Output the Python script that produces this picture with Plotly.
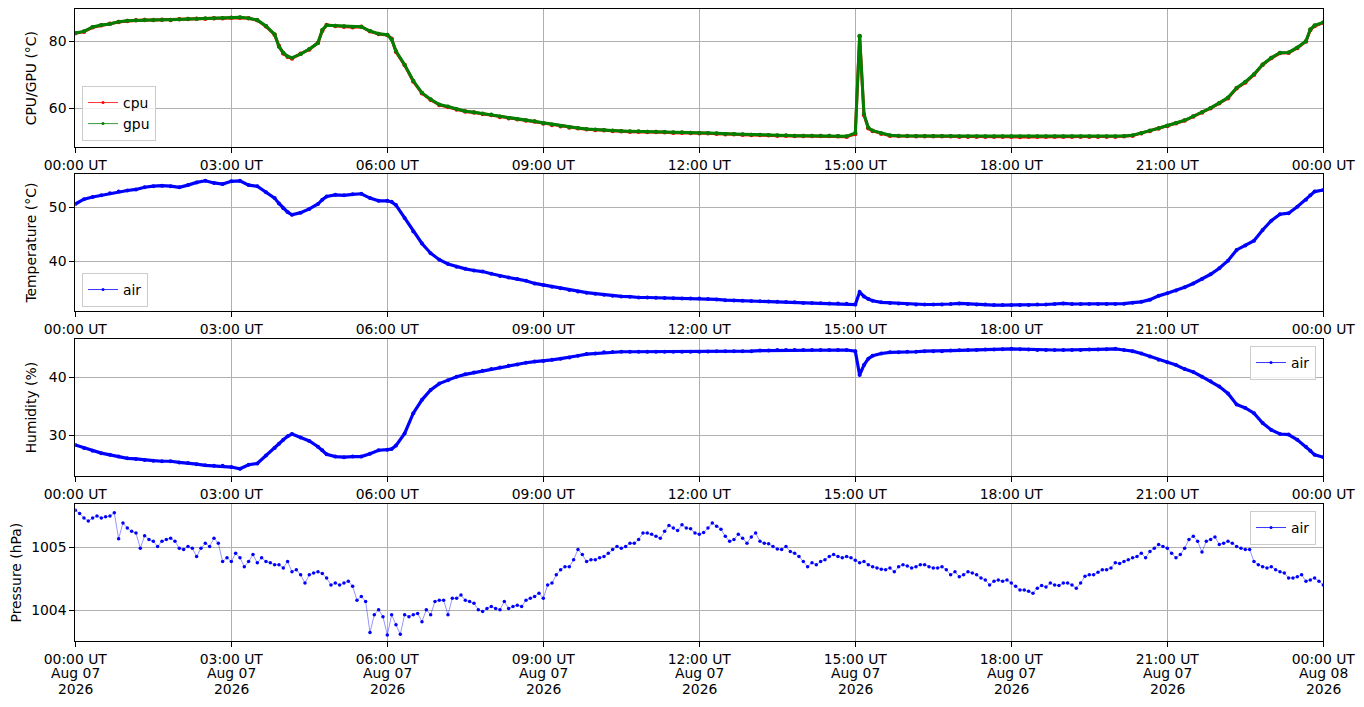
import pandas as pd
import plotly.graph_objects as go

# sample times in minutes after 2026-08-07 00:00 UT (10 min grid + a few extra readings)
extra_minutes = [235, 245, 285, 365, 905, 915, 1425]
minutes = sorted(set(range(0, 1441, 10)) | set(extra_minutes))
# pressure is read every 5 minutes
pressure_minutes = list(range(0, 1441, 5))

cpu = [
    82.4, 82.9, 84.2, 84.8, 85.3, 85.8,
    86.1, 86.3, 86.4, 86.4, 86.5, 86.4,
    86.6, 86.7, 86.8, 86.8, 86.9, 86.9,
    87.1, 87.1, 86.9, 86.3, 84.5, 82.0, 78.6,
    76.4, 75.4, 74.9, 76.3, 77.6, 79.6, 83.2, 84.9,
    84.6, 84.4, 84.2, 84.4, 83.0, 82.2,
    81.9, 80.8, 76.9, 72.9, 68.0, 64.5, 62.5,
    61.0, 60.4, 59.6, 59.0, 58.7, 58.3,
    58.0, 57.4, 57.0, 56.7, 56.3, 56.0,
    55.4, 55.0, 54.6, 54.2, 54.0, 53.7,
    53.5, 53.4, 53.2, 53.1, 53.0, 53.0,
    52.9, 52.9, 52.8, 52.7, 52.7, 52.6,
    52.5, 52.5, 52.4, 52.2, 52.2, 52.1,
    52.0, 52.0, 51.9, 51.8, 51.8, 51.7,
    51.7, 51.7, 51.7, 51.7, 51.6, 51.5,
    52.3, 81.5, 58.0, 54.0, 53.2, 52.4, 51.8, 51.7,
    51.7, 51.6, 51.6, 51.6, 51.6, 51.6,
    51.5, 51.5, 51.5, 51.5, 51.5, 51.5,
    51.5, 51.4, 51.5, 51.5, 51.5, 51.5,
    51.5, 51.5, 51.5, 51.5, 51.5, 51.5,
    51.5, 51.6, 51.8, 52.5, 53.2, 53.9,
    54.7, 55.5, 56.3, 57.5, 58.7, 60.0,
    61.5, 63.0, 66.0, 67.7, 70.0, 73.0,
    75.0, 76.5, 76.6, 78.0, 80.0, 83.4, 84.6,
    85.6,
]

gpu = [
    82.5, 83.0, 84.3, 84.9, 85.2, 85.9,
    86.2, 86.3, 86.5, 86.4, 86.5, 86.5,
    86.6, 86.8, 86.8, 86.9, 86.9, 87.0,
    87.1, 87.2, 86.9, 86.4, 84.6, 82.1, 78.4,
    76.6, 75.5, 75.1, 76.2, 77.7, 79.5, 83.5, 84.8,
    84.7, 84.5, 84.3, 84.4, 83.1, 82.3,
    82.0, 80.6, 77.1, 73.0, 68.2, 64.6, 62.7,
    61.1, 60.5, 59.7, 59.1, 58.8, 58.4,
    58.1, 57.5, 57.1, 56.8, 56.4, 56.1,
    55.5, 55.1, 54.7, 54.3, 54.1, 53.8,
    53.6, 53.5, 53.3, 53.2, 53.1, 53.1,
    53.0, 53.0, 52.9, 52.8, 52.8, 52.7,
    52.6, 52.6, 52.5, 52.3, 52.3, 52.2,
    52.1, 52.1, 52.0, 51.9, 51.9, 51.8,
    51.8, 51.8, 51.8, 51.8, 51.7, 51.6,
    52.6, 81.7, 58.3, 54.2, 53.3, 52.5, 51.9, 51.8,
    51.7, 51.7, 51.7, 51.7, 51.7, 51.7,
    51.6, 51.6, 51.6, 51.6, 51.6, 51.6,
    51.6, 51.6, 51.6, 51.6, 51.6, 51.6,
    51.6, 51.6, 51.6, 51.6, 51.6, 51.6,
    51.6, 51.7, 51.9, 52.5, 53.3, 54.0,
    54.8, 55.6, 56.4, 57.6, 58.8, 60.1,
    61.6, 63.2, 66.1, 67.9, 70.2, 73.1,
    75.1, 76.6, 76.7, 78.2, 80.1, 83.6, 84.8,
    85.7,
]

air_temp = [
    50.6, 51.5, 51.9, 52.2, 52.6, 52.9,
    53.1, 53.3, 53.7, 53.9, 54.0, 53.9,
    53.7, 54.1, 54.6, 54.9, 54.5, 54.3,
    54.8, 54.9, 54.1, 53.9, 52.8, 51.7, 50.7,
    49.8, 49.1, 48.6, 49.0, 49.7, 50.6, 51.4, 52.0,
    52.3, 52.2, 52.4, 52.5, 51.7, 51.2,
    51.2, 51.0, 50.4, 48.0, 45.5, 43.3, 41.5,
    40.3, 39.5, 39.0, 38.6, 38.3, 38.1,
    37.7, 37.3, 37.0, 36.7, 36.4, 35.9,
    35.6, 35.3, 35.0, 34.7, 34.4, 34.2,
    34.0, 33.8, 33.6, 33.5, 33.45, 33.3,
    33.3, 33.25, 33.2, 33.15, 33.1, 33.1,
    33.1, 33.0, 32.95, 32.8, 32.75, 32.7,
    32.65, 32.6, 32.55, 32.5, 32.45, 32.4,
    32.3, 32.3, 32.25, 32.2, 32.2, 32.15,
    32.0, 34.3, 33.5, 33.0, 32.7, 32.4, 32.3, 32.2,
    32.1, 32.0, 32.0, 32.0, 32.0, 32.1,
    32.2, 32.1, 32.0, 32.0, 31.9, 31.9,
    31.9, 31.9, 31.9, 32.0, 32.0, 32.1,
    32.2, 32.1, 32.1, 32.1, 32.1, 32.1,
    32.1, 32.15, 32.35, 32.5, 32.9, 33.6,
    34.1, 34.6, 35.2, 35.9, 36.7, 37.6,
    38.7, 40.1, 42.1, 42.9, 43.8, 45.8,
    47.5, 48.7, 48.9, 50.1, 51.4, 52.2, 52.9,
    53.2,
]

air_humidity = [
    28.3, 27.8, 27.3, 26.9, 26.6, 26.3,
    26.0, 25.9, 25.7, 25.6, 25.5, 25.5,
    25.3, 25.2, 25.0, 24.8, 24.7, 24.7,
    24.5, 24.2, 24.9, 25.1, 26.5, 27.8, 28.5,
    29.2, 29.8, 30.2, 29.6, 29.0, 28.0, 27.4, 26.7,
    26.3, 26.2, 26.3, 26.3, 26.8, 27.4,
    27.5, 27.6, 28.2, 30.3, 33.8, 36.1, 37.8,
    38.9, 39.5, 40.1, 40.5, 40.8, 41.1,
    41.4, 41.7, 42.0, 42.2, 42.5, 42.7,
    42.8, 43.0, 43.2, 43.4, 43.7, 44.0,
    44.1, 44.3, 44.35, 44.4, 44.4, 44.4,
    44.4, 44.4, 44.4, 44.4, 44.4, 44.4,
    44.4, 44.45, 44.5, 44.5, 44.5, 44.5,
    44.5, 44.6, 44.6, 44.7, 44.7, 44.7,
    44.7, 44.7, 44.7, 44.7, 44.7, 44.7,
    44.5, 40.4, 42.1, 43.2, 43.7, 44.1, 44.3, 44.3,
    44.4, 44.4, 44.5, 44.5, 44.5, 44.6,
    44.65, 44.7, 44.7, 44.8, 44.8, 44.85,
    44.9, 44.85, 44.8, 44.7, 44.7, 44.7,
    44.7, 44.7, 44.7, 44.8, 44.8, 44.85,
    44.9, 44.7, 44.5, 44.1, 43.6, 43.0,
    42.6, 42.1, 41.4, 40.9, 40.1, 39.3,
    38.4, 37.2, 35.3, 34.7, 33.8, 32.1,
    30.9, 30.2, 30.1, 29.2, 28.0, 27.3, 26.6,
    26.2,
]

# one row per hour, 12 readings (every 5 min), last value is 00:00 next day
air_pressure = [
    1005.58, 1005.53, 1005.46, 1005.41, 1005.46, 1005.49, 1005.46, 1005.48, 1005.49, 1005.54, 1005.13, 1005.38,
    1005.30, 1005.25, 1005.22, 1004.98, 1005.18, 1005.12, 1005.09, 1005.01, 1005.09, 1005.12, 1005.14, 1005.09,
    1004.98, 1004.96, 1005.01, 1004.98, 1004.85, 1004.98, 1005.06, 1005.01, 1005.14, 1005.06, 1004.77, 1004.83,
    1004.77, 1004.90, 1004.83, 1004.69, 1004.77, 1004.88, 1004.75, 1004.83, 1004.77, 1004.75, 1004.72, 1004.72,
    1004.67, 1004.77, 1004.61, 1004.64, 1004.56, 1004.43, 1004.56, 1004.59, 1004.61, 1004.58, 1004.51, 1004.40,
    1004.43, 1004.40, 1004.43, 1004.46, 1004.38, 1004.16, 1004.22, 1004.14, 1003.65, 1003.93, 1004.01, 1003.90,
    1003.61, 1003.93, 1003.77, 1003.62, 1003.93, 1003.90, 1003.93, 1003.95, 1003.82, 1004.01, 1003.93, 1004.14,
    1004.16, 1004.16, 1003.93, 1004.19, 1004.19, 1004.24, 1004.16, 1004.14, 1004.11, 1004.01, 1003.98, 1004.03,
    1004.06, 1004.03, 1004.01, 1004.14, 1004.03, 1004.06, 1004.08, 1004.06, 1004.16, 1004.19, 1004.22, 1004.27,
    1004.19, 1004.40, 1004.43, 1004.56, 1004.64, 1004.69, 1004.69, 1004.80, 1004.96, 1004.88, 1004.77, 1004.80,
    1004.80, 1004.83, 1004.85, 1004.90, 1004.96, 1005.01, 1004.98, 1005.01, 1005.06, 1005.06, 1005.12, 1005.22,
    1005.22, 1005.20, 1005.17, 1005.14, 1005.25, 1005.34, 1005.30, 1005.26, 1005.35, 1005.30, 1005.29, 1005.22,
    1005.20, 1005.23, 1005.30, 1005.38, 1005.33, 1005.28, 1005.17, 1005.09, 1005.12, 1005.20, 1005.14, 1005.06,
    1005.16, 1005.22, 1005.09, 1005.06, 1005.05, 1005.01, 1004.97, 1004.96, 1005.01, 1004.93, 1004.90, 1004.85,
    1004.77, 1004.69, 1004.75, 1004.72, 1004.77, 1004.80, 1004.85, 1004.88, 1004.85, 1004.83, 1004.85, 1004.83,
    1004.79, 1004.75, 1004.77, 1004.72, 1004.69, 1004.67, 1004.65, 1004.64, 1004.67, 1004.61, 1004.69, 1004.72,
    1004.70, 1004.67, 1004.69, 1004.72, 1004.72, 1004.69, 1004.67, 1004.67, 1004.69, 1004.64, 1004.56, 1004.61,
    1004.53, 1004.56, 1004.61, 1004.59, 1004.56, 1004.51, 1004.48, 1004.40, 1004.46, 1004.48, 1004.46, 1004.48,
    1004.43, 1004.38, 1004.32, 1004.32, 1004.30, 1004.27, 1004.35, 1004.39, 1004.37, 1004.43, 1004.40, 1004.39,
    1004.43, 1004.43, 1004.40, 1004.35, 1004.43, 1004.54, 1004.56, 1004.56, 1004.60, 1004.64, 1004.64, 1004.67,
    1004.75, 1004.74, 1004.77, 1004.80, 1004.83, 1004.85, 1004.90, 1004.83, 1004.93, 1004.98, 1005.04, 1005.01,
    1004.98, 1004.90, 1004.83, 1004.88, 1004.98, 1005.12, 1005.17, 1005.09, 1004.92, 1005.09, 1005.12, 1005.16,
    1005.04, 1005.06, 1005.09, 1005.06, 1005.01, 1004.98, 1004.96, 1004.96, 1004.77, 1004.72, 1004.69, 1004.67,
    1004.69, 1004.64, 1004.61, 1004.59, 1004.51, 1004.51, 1004.53, 1004.56, 1004.46, 1004.48, 1004.51, 1004.46,
    1004.40,
]

tick_hours = [0, 3, 6, 9, 12, 15, 18, 21, 24]
tick_labels = ["00:00 UT", "03:00 UT", "06:00 UT", "09:00 UT", "12:00 UT",
               "15:00 UT", "18:00 UT", "21:00 UT", "00:00 UT"]
tick_dates = ["Aug 07", "Aug 07", "Aug 07", "Aug 07", "Aug 07",
              "Aug 07", "Aug 07", "Aug 07", "Aug 08"]
tick_years = ["2026"] * 9

for name, s in [("cpu", cpu), ("gpu", gpu), ("temp", air_temp), ("hum", air_humidity)]:
    assert len(s) == len(minutes), (name, len(s), len(minutes))
assert len(air_pressure) == len(pressure_minutes), len(air_pressure)

start = pd.Timestamp("2026-08-07 00:00")
t = start + pd.to_timedelta(minutes, unit="min")
t_p = start + pd.to_timedelta(pressure_minutes, unit="min")
tickvals = [start + pd.Timedelta(hours=h) for h in tick_hours]

# the page body has an 8px margin, so the figure sits 8px in from the window corner
OFF = 8
W, H = 1364 - 2 * OFF, 707 - 2 * OFF
FONT = "DejaVu Sans"
FS = 13.9


def px(v):
    return (v - OFF) / W


def py(v):
    return 1 - (v - OFF) / H


x0, x1 = px(75.3), px(1323.3)
# (top px, bottom px) of each panel in the window
panels = [(9.3, 147.0), (174.3, 311.0), (339.0, 476.3), (504.3, 641.0)]
yranges = [[48.4, 89.6], [30.8, 56.1], [22.9, 46.6], [1003.515, 1005.675]]
ytickvals = [[60, 80], [40, 50], [30, 40], [1004, 1005]]
ytitles = ["CPU/GPU (°C)", "Temperature (°C)", "Humidity (%)", "Pressure (hPa)"]

fig = go.Figure()


def add_series(i, x, y, color, name, legend, lw=2.4, ms=3.5, line_color=None):
    ax = "" if i == 0 else str(i + 1)
    fig.add_trace(go.Scatter(
        x=x, y=y, mode="lines+markers", xaxis="x" + ax, yaxis="y" + ax,
        line=dict(color=line_color or color, width=lw),
        marker=dict(color=color, size=ms), showlegend=False, hoverinfo="skip"))
    # legend-only entry with thin line like the original
    fig.add_trace(go.Scatter(
        x=[None], y=[None], mode="lines+markers", name=name, legend=legend,
        xaxis="x" + ax, yaxis="y" + ax,
        line=dict(color=color, width=0.8), marker=dict(color=color, size=3)))


add_series(0, t, cpu, "#ff0000", "cpu", "legend", lw=3.0, ms=4.5)
add_series(0, t, gpu, "#008000", "gpu", "legend", lw=3.0, ms=4)
add_series(1, t, air_temp, "#0000ff", "air", "legend2", lw=3.2, ms=4)
add_series(2, t, air_humidity, "#0000ff", "air", "legend3", lw=3.2, ms=4)
add_series(3, t_p, air_pressure, "#0000ff", "air", "legend4", lw=0.7, ms=3.5,
           line_color="rgba(0,0,255,0.6)")

layout = dict(
    width=W, height=H,
    margin=dict(l=0, r=0, t=0, b=0),
    paper_bgcolor="white", plot_bgcolor="white",
    font=dict(family=FONT, size=FS, color="black"),
)

for i, (top, bot) in enumerate(panels):
    ax = "" if i == 0 else str(i + 1)
    layout["xaxis" + ax] = dict(
        domain=[x0, x1], anchor="y" + ax, type="date",
        range=[start, start + pd.Timedelta(hours=24)],
        tickmode="array", tickvals=tickvals, ticktext=tick_labels,
        showline=True, mirror=True, linecolor="black", linewidth=1,
        ticks="outside", ticklen=5, tickcolor="black",
        showgrid=True, gridcolor="#b0b0b0", gridwidth=0.8,
        zeroline=False, automargin=False, tickfont=dict(size=FS))
    layout["yaxis" + ax] = dict(
        domain=[py(bot), py(top)], anchor="x" + ax,
        range=yranges[i], tickmode="array", tickvals=ytickvals[i],
        showline=True, mirror=True, linecolor="black", linewidth=1,
        ticks="outside", ticklen=5, tickcolor="black",
        showgrid=True, gridcolor="#b0b0b0", gridwidth=0.8,
        zeroline=False, automargin=False, tickfont=dict(size=FS),
        title=dict(text=ytitles[i], font=dict(size=FS), standoff=8))

# date and year lines under the bottom axis ticks (tighter line spacing than <br>)
annotations = []
for tv, d, yr in zip(tickvals, tick_dates, tick_years):
    for txt, ypix in [(d, 673), (yr, 689)]:
        annotations.append(dict(x=tv, xref="x4", y=py(ypix), yref="paper",
                                text=txt, showarrow=False, yanchor="middle",
                                xanchor="center", font=dict(size=FS)))
layout["annotations"] = annotations

legend_style = dict(bgcolor="rgba(255,255,255,0.8)", bordercolor="#cccccc",
                    borderwidth=1, font=dict(size=FS), itemwidth=30,
                    tracegroupgap=0)
layout["legend"] = dict(x=px(82), y=py(141), xanchor="left", yanchor="bottom", **legend_style)
layout["legend2"] = dict(x=px(82), y=py(307), xanchor="left", yanchor="bottom", **legend_style)
layout["legend3"] = dict(x=px(1316), y=py(346), xanchor="right", yanchor="top", **legend_style)
layout["legend4"] = dict(x=px(1316), y=py(511), xanchor="right", yanchor="top", **legend_style)

fig.update_layout(**layout)
fig.write_html("out.html")
